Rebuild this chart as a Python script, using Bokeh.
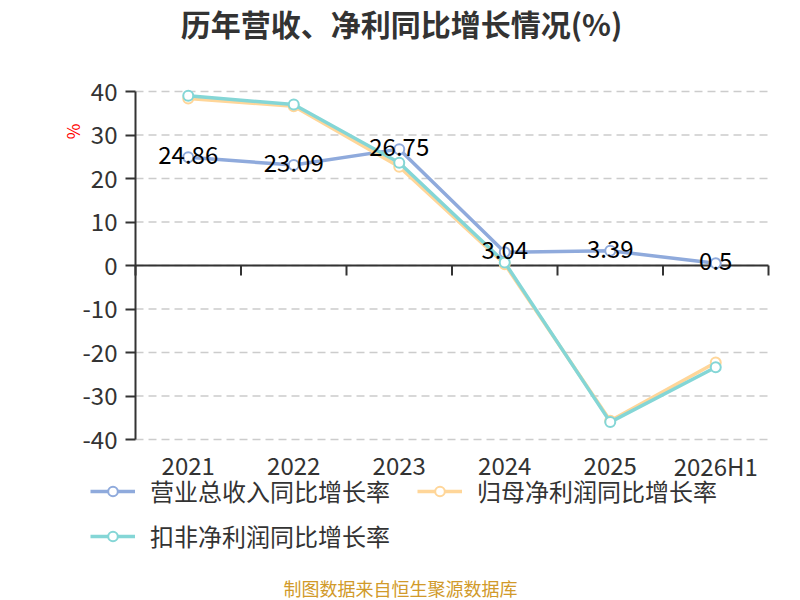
from bokeh.plotting import figure
from bokeh.models import (Range1d, FixedTicker, Label,
                          Legend, LegendItem, ColumnDataSource)
from bokeh.embed import file_html
from bokeh.resources import INLINE
from bokeh.core.properties import value

# ---- data ----
years = ["2021", "2022", "2023", "2024", "2025", "2026H1"]
revenue_growth = [24.86, 23.09, 26.75, 3.04, 3.39, 0.5]
net_profit_growth = [38.4, 36.6, 22.7, 0.3, -35.7, -22.3]
deducted_profit_growth = [39.0, 37.0, 23.6, 0.7, -36.0, -23.4]
series_names = ["营业总收入同比增长率", "归母净利润同比增长率", "扣非净利润同比增长率"]
y_ticks = [-40, -30, -20, -10, 0, 10, 20, 30, 40]
title_text = "历年营收、净利同比增长情况(%)"
unit_text = "%"
footer_text = "制图数据来自恒生聚源数据库"

# ---- layout / style constants ----
FONT = "Noto Sans CJK SC"
colors = ["#8FAADC", "#FFD699", "#84D6D6"]
W, H = 800, 600
AX_L, AX_R = 135, 768      # pixel x of category band start / end
AX_T, AX_B = 91, 439       # pixel y of top / bottom y tick
FRAME_L = 62
TICK_PX = 10

n = len(years)
xpos = [i + 0.5 for i in range(n)]          # category centres
bounds = list(range(n + 1))                 # category boundaries
y_lo, y_hi = y_ticks[0], y_ticks[-1]

px_x = (AX_R - AX_L) / n
px_y = (AX_B - AX_T) / (y_hi - y_lo)
x_range = Range1d(-(AX_L - FRAME_L) / px_x, n + (W - AX_R) / px_x)
y_range = Range1d(y_lo - (H - AX_B) / px_y, y_hi + AX_T / px_y)

p = figure(width=W, height=H, x_range=x_range, y_range=y_range,
           x_axis_location=None, output_backend="svg", toolbar_location=None,
           min_border_left=FRAME_L, min_border_right=0, min_border_top=0,
           min_border_bottom=0)
p.outline_line_color = None
p.grid.visible = False

# y axis drawn at x = 0
ya = p.yaxis[0]
ya.fixed_location = 0
ya.bounds = (y_lo, y_hi)
ya.ticker = FixedTicker(ticks=y_ticks)
ya.major_label_overrides = {t: str(t) for t in y_ticks}
ya.axis_line_color = "#333333"
ya.axis_line_width = 2
ya.major_tick_line_color = "#333333"
ya.major_tick_line_width = 2
ya.major_tick_out = TICK_PX
ya.major_tick_in = 0
ya.minor_tick_line_color = None
ya.major_label_standoff = 8
ya.major_label_text_font = FONT
ya.major_label_text_font_size = "24px"
ya.major_label_text_color = "#333333"

# dashed horizontal grid lines across the category band
p.segment(x0=[0] * len(y_ticks), x1=[n] * len(y_ticks), y0=y_ticks, y1=y_ticks,
          line_color="#CCCCCC", line_width=1.5, line_dash="8 5")

# category axis line at y = 0 with boundary ticks
p.segment(x0=[0], x1=[n], y0=[0], y1=[0], line_color="#333333", line_width=2)
p.segment(x0=bounds, x1=bounds, y0=[0] * len(bounds),
          y1=[-TICK_PX / px_y] * len(bounds), line_color="#333333", line_width=2)

# category labels under the plot
p.text(x=xpos, y=[y_lo - 26 / px_y] * n, text=years, text_font=value(FONT),
       text_font_size="24px", text_color="#333333", text_align="center",
       text_baseline="middle")

all_series = [revenue_growth, net_profit_growth, deducted_profit_growth]
renderers = []
for vals, c in zip(all_series, colors):
    src = ColumnDataSource(dict(x=xpos, y=vals))
    ln = p.line("x", "y", source=src, line_color=c, line_width=3.5)
    sc = p.scatter("x", "y", source=src, size=10, marker="circle",
                   fill_color="white", line_color=c, line_width=2)
    renderers.append([ln, sc])

# data labels for revenue series
lab_src = ColumnDataSource(dict(x=xpos, y=[v + 2 / px_y for v in revenue_growth],
                                t=[f"{v:g}" for v in revenue_growth]))
p.text("x", "y", text="t", source=lab_src, text_font=value(FONT),
       text_font_size="24px", text_color="#000000", text_align="center",
       text_baseline="middle")

# legends (two rows)
def mk_legend(items, x, y):
    lg = Legend(items=items, orientation="horizontal", location=(x, y),
                label_text_font=FONT, label_text_font_size="24px",
                label_text_color="#333333", glyph_width=45, glyph_height=24,
                label_height=24, label_standoff=15, spacing=27, padding=0,
                margin=0, border_line_color=None, background_fill_alpha=0)
    p.add_layout(lg, "center")

mk_legend([LegendItem(label=series_names[0], renderers=renderers[0]),
           LegendItem(label=series_names[1], renderers=renderers[1])], 90 - FRAME_L, H - 508)
mk_legend([LegendItem(label=series_names[2], renderers=renderers[2])], 90 - FRAME_L, H - 553)

# title, unit and footer
p.add_layout(Label(x=401 - FRAME_L, y=H - 22, x_units="screen", y_units="screen",
                   text=title_text, text_font=FONT, text_font_size="30px",
                   text_font_style="bold", text_color="#333333",
                   text_align="center", text_baseline="middle"))
p.add_layout(Label(x=72 - FRAME_L, y=H - 131, x_units="screen", y_units="screen",
                   text=unit_text, text_font=FONT, text_font_size="17px",
                   text_color="#FF0000", text_align="center", text_baseline="middle",
                   angle=1.5708))
p.add_layout(Label(x=400 - FRAME_L, y=H - 587, x_units="screen", y_units="screen",
                   text=footer_text, text_font=FONT, text_font_size="18px",
                   text_color="#D19A2A", text_align="center", text_baseline="middle"))

open("out.html", "w").write(file_html(p, INLINE))
